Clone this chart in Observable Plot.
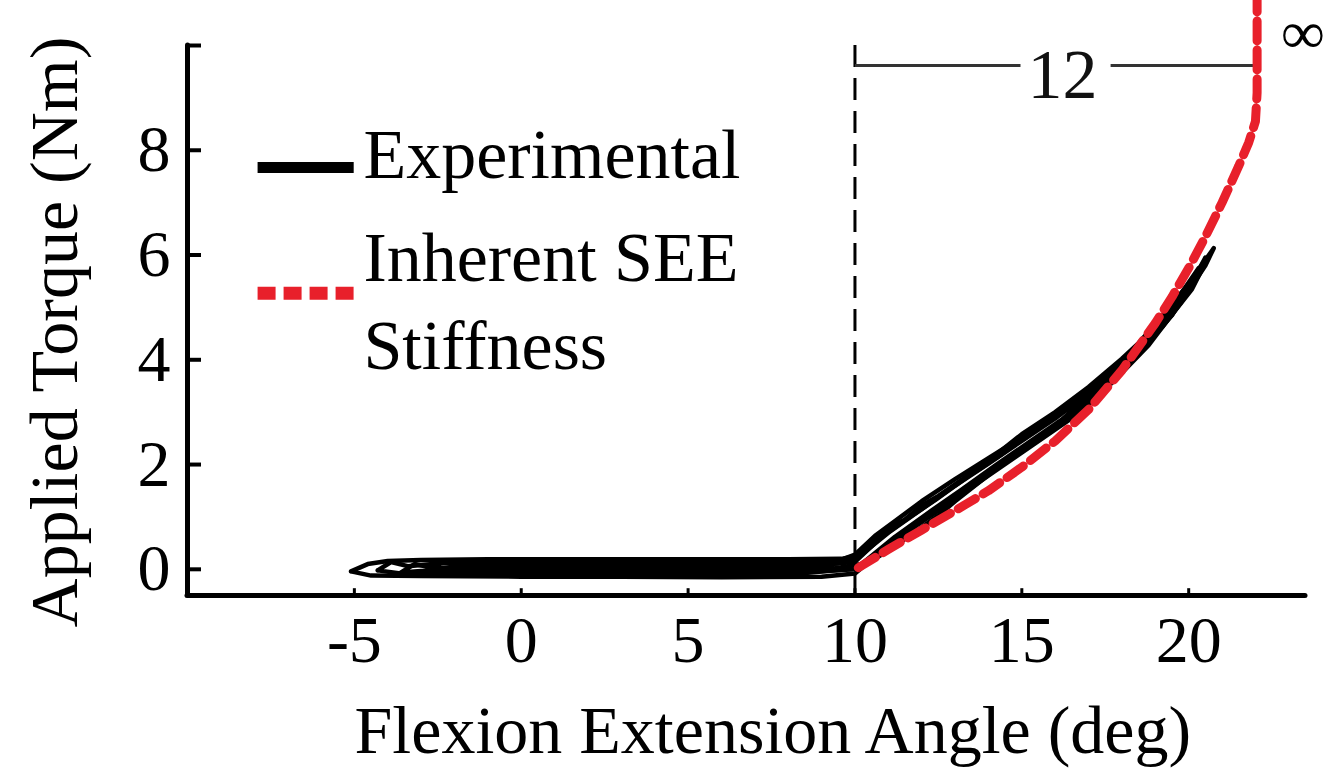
<!DOCTYPE html>
<html>
<head>
<meta charset="utf-8">
<script src="https://cdn.jsdelivr.net/npm/d3@7"></script>
<script src="https://cdn.jsdelivr.net/npm/@observablehq/plot@0.6"></script>
<style>
  html, body { margin: 0; padding: 0; background: #fff; }
  #chart svg { display: block; }
</style>
</head>
<body>
<div id="chart"></div>
<script>
// ---------- data ----------
const xTicks = [-5, 0, 5, 10, 15, 20];
const yTicks = [0, 2, 4, 6, 8];
const xDomain = [-10, 23.5];
const yDomain = [-0.5, 10];
const xLabel = "Flexion Extension Angle (deg)";
const yLabel = "Applied Torque (Nm)";
const seriesNames = ["Experimental", "Inherent SEE", "Stiffness"];

// Experimental hysteresis cycles
const cycleAAngle  = [-5.1, -4.6, -4.0, -3.0, -1.0, 2.0, 5.0, 8.0, 9.6, 10.0, 10.5, 11.0, 11.5, 12.0, 12.5, 13.0, 14.0, 15.0, 16.0, 17.0, 18.0, 18.5, 19.0, 20.0, 20.75, 20.5, 20.0, 19.0, 18.5, 18.0, 17.0, 16.0, 15.0, 14.0, 13.0, 12.5, 12.0, 11.0, 10.3, 10.0, 9.0, 6.0, 3.0, 0.0, -3.0, -4.5, -5.1];
const cycleATorque = [-0.04, 0.1, 0.16, 0.18, 0.19, 0.19, 0.19, 0.19, 0.2, 0.25, 0.52, 0.78, 0.95, 1.22, 1.4, 1.62, 2.07, 2.58, 3.0, 3.48, 4.02, 4.32, 4.68, 5.45, 6.13, 5.8, 5.32, 4.52, 4.12, 3.8, 3.22, 2.72, 2.27, 1.8, 1.3, 1.03, 0.8, 0.36, 0.08, -0.08, -0.14, -0.15, -0.14, -0.14, -0.13, -0.12, -0.04];

const cycleBAngle  = [-4.3, -3.9, -3.4, -2.0, 1.0, 4.0, 7.0, 9.5, 10.0, 10.6, 11.2, 12.0, 13.0, 14.0, 15.0, 16.0, 17.0, 18.0, 19.0, 20.0, 20.5, 20.2, 19.5, 18.5, 17.5, 16.5, 15.5, 14.5, 13.5, 12.5, 11.5, 10.6, 10.1, 8.0, 5.0, 2.0, -1.0, -3.5, -4.3];
const cycleBTorque = [-0.02, 0.14, 0.06, 0.14, 0.15, 0.14, 0.15, 0.16, 0.28, 0.64, 0.92, 1.3, 1.72, 2.12, 2.52, 2.95, 3.42, 3.95, 4.6, 5.35, 5.95, 5.6, 4.85, 4.15, 3.55, 2.95, 2.5, 2.05, 1.6, 1.15, 0.7, 0.28, 0.02, -0.1, -0.12, -0.11, -0.1, -0.09, -0.02];

const cycleCAngle  = [-2.7, -2.4, -1.5, 1.0, 4.0, 7.0, 9.4, 10.0, 10.8, 11.6, 12.4, 13.4, 14.4, 15.4, 16.4, 17.4, 18.4, 19.4, 20.3, 19.8, 18.8, 17.8, 16.8, 15.8, 14.8, 13.8, 12.8, 11.8, 10.8, 10.0, 8.5, 5.5, 2.5, -0.5, -2.2, -2.7];
const cycleCTorque = [0.0, 0.12, 0.07, 0.09, 0.1, 0.1, 0.11, 0.14, 0.62, 0.98, 1.32, 1.78, 2.2, 2.68, 3.1, 3.6, 4.2, 4.92, 5.75, 5.12, 4.28, 3.62, 3.02, 2.58, 2.14, 1.7, 1.25, 0.82, 0.34, 0.0, -0.05, -0.06, -0.05, -0.04, -0.06, 0.0];

const cycleDAngle  = [-3.6, -3.2, -2.6, 0.0, 3.0, 6.0, 9.0, 10.0, 11.0, 12.0, 13.0, 14.0, 15.0, 16.0, 17.0, 18.0, 19.0, 20.0, 20.6, 20.1, 19.2, 18.2, 17.2, 16.2, 15.2, 14.2, 13.2, 12.2, 11.2, 10.2, 9.0, 6.0, 3.0, 0.0, -3.0, -3.6];
const cycleDTorque = [-0.06, 0.1, 0.02, 0.04, 0.05, 0.05, 0.06, 0.18, 0.7, 1.15, 1.6, 2.02, 2.45, 2.88, 3.36, 3.9, 4.55, 5.3, 5.98, 5.35, 4.62, 3.95, 3.38, 2.86, 2.42, 1.98, 1.52, 1.08, 0.62, 0.1, -0.02, -0.02, -0.01, -0.02, -0.03, -0.06];

// Inherent SEE stiffness model
const seeAngle  = [10.1, 11.0, 12.0, 13.0, 14.0, 15.0, 16.0, 17.0, 18.0, 19.0, 19.5, 20.0, 20.5, 21.0, 21.5, 21.8, 22.0, 22.05, 22.05];
const seeTorque = [0.03, 0.38, 0.75, 1.12, 1.5, 1.95, 2.45, 3.05, 3.8, 4.7, 5.2, 5.75, 6.35, 7.0, 7.7, 8.15, 8.55, 9.1, 10.9];

// annotation
const kneeAngle = [10];
const annoLevel = [9.62];
const annoSegStart = [10, 17.66];
const annoSegEnd = [14.96, 22.0];
const annoText = ["12"];
const annoTextAngle = [16.22];
const annoTextTorque = [9.43];
const infText = ["\u221E"];
const infAngle = [23.42];
const infTorque = [10.23];

// legend placement (in data units)
const legendSwatchX = [-7.9, -5.02];
const legendSwatchY = [7.67, 5.27];
const legendTextX = -4.73;
const legendTextY = [7.89, 5.94, 4.26];

// ---------- build ----------
function toRows(angles, torques, id) {
  return angles.map((a, i) => ({angle: a, torque: torques[i], cycle: id}));
}
const expRows = [
  ...toRows(cycleAAngle, cycleATorque, "A"),
  ...toRows(cycleBAngle, cycleBTorque, "B"),
  ...toRows(cycleCAngle, cycleCTorque, "C"),
  ...toRows(cycleDAngle, cycleDTorque, "D")
];
const seeRows = toRows(seeAngle, seeTorque, "SEE");
const red = "#e8202b";
const font = "'Liberation Serif', 'Times New Roman', serif";

const chart = Plot.plot({
  width: 1342,
  height: 774,
  marginLeft: 187,
  marginRight: 37,
  marginTop: 45,
  marginBottom: 179,
  x: {domain: xDomain},
  y: {domain: yDomain},
  style: {fontFamily: font, fontSize: "66px", color: "black", background: "white", overflow: "visible"},
  marks: [
    // axis tick labels
    Plot.axisX({ticks: xTicks, tickSize: 0, tickPadding: 20, fontSize: 66, label: null, tickFormat: d => String(d)}),
    Plot.axisY({ticks: yTicks, tickSize: 0, tickPadding: 17, fontSize: 66, label: null, tickFormat: d => String(d)}),
    // inward tick marks
    Plot.ruleX(xTicks, {x: d => d, y1: yDomain[0], y2: yDomain[0] + 0.13, stroke: "black", strokeWidth: 3}),
    Plot.ruleY(yTicks.concat([yDomain[1]]), {y: d => d, x1: xDomain[0], x2: xDomain[0] + 0.42, stroke: "black", strokeWidth: 4}),
    // vertical dashed line at knee
    Plot.ruleX(kneeAngle, {x: d => d, y1: yDomain[0], y2: yDomain[1] + 0.05, stroke: "black", strokeWidth: 3, strokeDasharray: "22,11"}),
    // annotation "12"
    Plot.link(annoSegStart, {x1: d => d, x2: (d, i) => annoSegEnd[i], y1: annoLevel[0], y2: annoLevel[0], stroke: "#333", strokeWidth: 3}),
    Plot.text(annoText, {x: annoTextAngle, y: annoTextTorque, text: d => d, fontSize: 70, fill: "#111", textAnchor: "middle", lineAnchor: "middle"}),
    Plot.text(infText, {x: infAngle, y: infTorque, text: d => d, fontSize: 60, fontWeight: "bold", fill: "black", textAnchor: "middle", lineAnchor: "middle"}),
    // data
    Plot.line(expRows, {x: "angle", y: "torque", z: "cycle", stroke: "black", strokeWidth: 4.5, strokeLinejoin: "round"}),
    Plot.line(seeRows, {x: "angle", y: "torque", stroke: red, strokeWidth: 9, strokeDasharray: "20,9"}),
    // axes lines
    Plot.ruleX([xDomain[0]], {x: d => d, y1: yDomain[0], y2: yDomain[1], stroke: "black", strokeWidth: 5, strokeLinecap: "round"}),
    Plot.ruleY([yDomain[0]], {y: d => d, x1: xDomain[0], x2: xDomain[1], stroke: "black", strokeWidth: 5, strokeLinecap: "round"}),
    // legend
    Plot.link([0], {x1: legendSwatchX[0], x2: legendSwatchX[1], y1: legendSwatchY[0], y2: legendSwatchY[0], stroke: "black", strokeWidth: 11}),
    Plot.link([0], {x1: legendSwatchX[0], x2: legendSwatchX[1], y1: legendSwatchY[1], y2: legendSwatchY[1], stroke: red, strokeWidth: 13, strokeDasharray: "18,8"}),
    Plot.text(seriesNames, {x: legendTextX, y: (d, i) => legendTextY[i], text: d => d, fontSize: 70, textAnchor: "start", lineAnchor: "middle", fill: "black"}),
    // axis titles
    Plot.text([xLabel], {frameAnchor: "bottom", x: 7.54, dy: 136, text: d => d, fontSize: 68, textAnchor: "middle", lineAnchor: "middle", fill: "black"}),
    Plot.text([yLabel], {frameAnchor: "left", y: 4.53, dx: -132, rotate: -90, text: d => d, fontSize: 68, textAnchor: "middle", lineAnchor: "middle", fill: "black"})
  ]
});
document.getElementById("chart").appendChild(chart);
</script>
</body>
</html>
